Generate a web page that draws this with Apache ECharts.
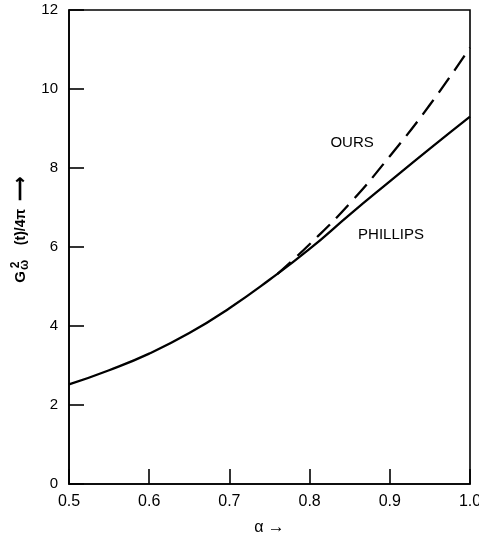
<!DOCTYPE html>
<html>
<head>
<meta charset="utf-8">
<script src="https://cdn.jsdelivr.net/npm/echarts@6/dist/echarts.min.js"></script>
<style>
html,body{margin:0;padding:0;background:#fff;}
#chart{width:479px;height:533px;}
</style>
</head>
<body>
<div id="chart"></div>
<script>
// data
var alphaPhillips = [0.5, 0.55, 0.6, 0.65, 0.7, 0.75, 0.8, 0.85, 0.9, 0.95, 1.0];
var phillips      = [2.52, 2.88, 3.3, 3.82, 4.45, 5.17, 5.95, 6.82, 7.66, 8.49, 9.3];
var alphaOurs = [0.76, 0.8, 0.85, 0.9, 0.95, 1.0];
var ours      = [5.32, 6.07, 7.1, 8.3, 9.6, 11.05];
var curveLabels = [
  {text: 'OURS', x: 0.853, y: 8.63, spacing: 0.5},
  {text: 'PHILLIPS', x: 0.9015, y: 6.3, spacing: 1.5}
];

function pairs(xs, ys) { return xs.map(function (x, i) { return [x, ys[i]]; }); }

var FONT = 'Liberation Sans, Arial, sans-serif';
var chart = echarts.init(document.getElementById('chart'));
var option = {
  animation: false,
  backgroundColor: '#fff',
  grid: {left: 69, right: 9, top: 10, bottom: 49, containLabel: false, outerBoundsMode: 'none',
    show: true, borderColor: '#000', borderWidth: 1.6},
  xAxis: {
    type: 'value', min: 0.5, max: 1.0, interval: 0.1,
    name: '{a|α} {b|→}', nameLocation: 'middle', nameGap: 35,
    nameTextStyle: {fontFamily: FONT, fontSize: 16, color: '#000',
      rich: {a: {fontFamily: FONT, fontSize: 16, color: '#000'},
             b: {fontFamily: FONT, fontSize: 17, fontWeight: 'bold', color: '#000'}}},
    axisLine: {show: true, lineStyle: {color: '#000', width: 1.6}},
    axisTick: {show: true, inside: true, length: 15, lineStyle: {color: '#000', width: 1.6}},
    axisLabel: {fontFamily: FONT, fontSize: 16, color: '#000', margin: 10,
      formatter: function (v) { return v.toFixed(1); }},
    splitLine: {show: false}
  },
  yAxis: {
    type: 'value', min: 0, max: 12, interval: 2,
    axisLine: {show: true, lineStyle: {color: '#000', width: 1.6}},
    axisTick: {show: true, inside: true, length: 15, lineStyle: {color: '#000', width: 1.6}},
    axisLabel: {fontFamily: FONT, fontSize: 15, color: '#000', margin: 11},
    splitLine: {show: false}
  },
  series: [
    {
      name: 'PHILLIPS', type: 'line', data: pairs(alphaPhillips, phillips),
      smooth: 0.5, showSymbol: false, symbol: 'none',
      lineStyle: {color: '#000', width: 2.3}
    },
    {
      name: 'OURS', type: 'line', data: pairs(alphaOurs, ours),
      smooth: 0.5, showSymbol: false, symbol: 'none',
      lineStyle: {color: '#000', width: 2.3, type: [18, 9]}
    }
  ]
};
chart.setOption(option);

var graphics = curveLabels.map(function (l) {
  var p = chart.convertToPixel({gridIndex: 0}, [l.x, l.y]);
  return {type: 'text', x: p[0], y: p[1],
    style: {text: l.text, fontFamily: FONT, fontSize: 15, fill: '#000', align: 'center',
      verticalAlign: 'middle', letterSpacing: l.spacing}};
});
// rotated y-axis title: G^2_ω (t)/4π →
var sty = function (t, size, extra) {
  var s = {text: t, fontFamily: FONT, fontSize: size, fill: '#000', align: 'center', verticalAlign: 'middle'};
  for (var k in extra) s[k] = extra[k];
  return s;
};
graphics.push({
  type: 'group', x: 21, y: 230, rotation: Math.PI / 2,
  children: [
    {type: 'text', x: -47, y: 0, style: sty('G', 15, {fontWeight: 'bold'})},
    {type: 'text', x: -35, y: -5, style: sty('2', 12, {fontWeight: 'bold'})},
    {type: 'text', x: -35, y: 4, style: sty('ω', 12, {fontWeight: 'bold'})},
    {type: 'text', x: 3, y: 0, style: sty('(t)/4π', 14, {fontWeight: 'bold'})},
    {type: 'text', x: 41, y: 0, style: sty('⟶', 17, {fontWeight: 'bold'})}
  ]
});
chart.setOption({graphic: graphics});
</script>
</body>
</html>
